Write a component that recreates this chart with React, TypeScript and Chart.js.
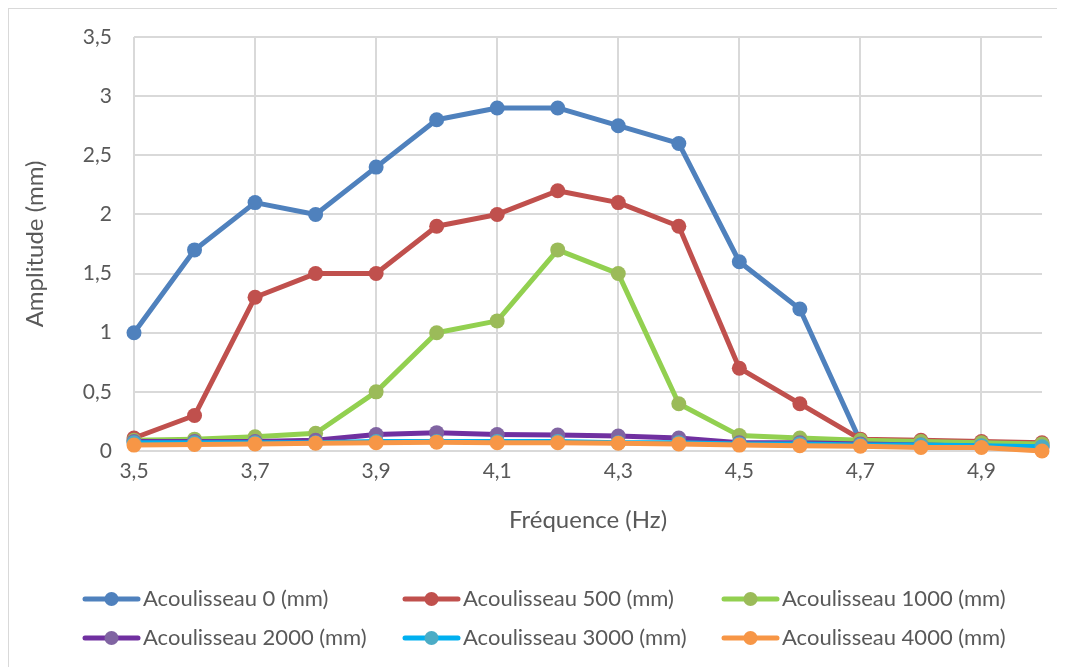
import React, { useEffect, useRef } from "react";
import { Chart, registerables } from "chart.js";

Chart.register(...registerables);

const frequencies = [3.5, 3.6, 3.7, 3.8, 3.9, 4.0, 4.1, 4.2, 4.3, 4.4, 4.5, 4.6, 4.7, 4.8, 4.9, 5.0];

const serie0 = [1.0, 1.7, 2.1, 2.0, 2.4, 2.8, 2.9, 2.9, 2.75, 2.6, 1.6, 1.2, 0.08, 0.07, 0.06, 0.05];
const serie500 = [0.11, 0.3, 1.3, 1.5, 1.5, 1.9, 2.0, 2.2, 2.1, 1.9, 0.7, 0.4, 0.1, 0.09, 0.08, 0.07];
const serie1000 = [0.09, 0.1, 0.12, 0.15, 0.5, 1.0, 1.1, 1.7, 1.5, 0.4, 0.13, 0.11, 0.09, 0.08, 0.07, 0.06];
const serie2000 = [0.08, 0.08, 0.08, 0.09, 0.14, 0.155, 0.14, 0.135, 0.127, 0.11, 0.07, 0.07, 0.06, 0.05, 0.04, 0.03];
const serie3000 = [0.07, 0.07, 0.07, 0.07, 0.08, 0.08, 0.08, 0.08, 0.07, 0.07, 0.06, 0.06, 0.05, 0.05, 0.045, 0.035];
const serie4000 = [0.05, 0.055, 0.06, 0.065, 0.07, 0.075, 0.07, 0.07, 0.065, 0.06, 0.05, 0.045, 0.04, 0.03, 0.03, 0.0];

const seriesLabels = [
  "Acoulisseau 0 (mm)",
  "Acoulisseau 500 (mm)",
  "Acoulisseau 1000 (mm)",
  "Acoulisseau 2000 (mm)",
  "Acoulisseau 3000 (mm)",
  "Acoulisseau 4000 (mm)",
];

const xTickValues = [3.5, 3.7, 3.9, 4.1, 4.3, 4.5, 4.7, 4.9];
const xTickLabels = ["3,5", "3,7", "3,9", "4,1", "4,3", "4,5", "4,7", "4,9"];
const yTickLabels = ["0", "0,5", "1", "1,5", "2", "2,5", "3", "3,5"];

const xTitle = "Fréquence (Hz)";
const yTitle = "Amplitude (mm)";

const lineColors = ["#4f81bd", "#c0504d", "#92d050", "#7030a0", "#00b0f0", "#f79646"];
const markerColors = ["#4f81bd", "#c0504d", "#9bbb59", "#8064a2", "#4bacc6", "#f79646"];

const FONT = "Lato, 'Open Sans', sans-serif";
const TEXT = "#595959";

const gridLegend = {
  id: "gridLegend",
  afterDraw(chart: any) {
    const ctx = chart.ctx;
    const colX = [74, 394, 713];
    const rowY = [590, 629];
    chart.data.datasets.forEach((ds: any, i: number) => {
      const x = colX[i % 3];
      const y = rowY[Math.floor(i / 3)];
      ctx.save();
      ctx.strokeStyle = ds.borderColor;
      ctx.lineWidth = 5;
      ctx.lineCap = "round";
      ctx.beginPath();
      ctx.moveTo(x + 2, y);
      ctx.lineTo(x + 55, y);
      ctx.stroke();
      ctx.fillStyle = ds.pointBackgroundColor;
      ctx.beginPath();
      ctx.arc(x + 28.5, y, 7, 0, Math.PI * 2);
      ctx.fill();
      ctx.fillStyle = TEXT;
      ctx.font = `22px ${FONT}`;
      ctx.textBaseline = "middle";
      ctx.textAlign = "left";
      ctx.fillText(ds.label, x + 60, y);
      ctx.restore();
    });
  },
};

export default function App() {
  const canvasRef = useRef<HTMLCanvasElement | null>(null);

  useEffect(() => {
    if (!canvasRef.current) return;
    const allSeries = [serie0, serie500, serie1000, serie2000, serie3000, serie4000];
    const datasets = allSeries.map((values, i) => ({
      label: seriesLabels[i],
      data: values.map((v, k) => ({ x: frequencies[k], y: v })),
      borderColor: lineColors[i],
      backgroundColor: lineColors[i],
      pointBackgroundColor: markerColors[i],
      pointBorderColor: markerColors[i],
      pointRadius: 7.5,
      pointBorderWidth: 0,
      borderWidth: 5,
      borderCapStyle: "round",
      borderJoinStyle: "round",
      tension: 0,
      clip: false,
      order: allSeries.length - i,
    }));

    const chart = new Chart(canvasRef.current, {
      type: "line",
      data: { datasets },
      plugins: [gridLegend],
      options: {
        animation: false,
        responsive: true,
        maintainAspectRatio: false,
        layout: { padding: { left: 0, top: 28, right: 23, bottom: 126 } },
        plugins: {
          legend: { display: false },
          tooltip: { enabled: false },
        },
        scales: {
          x: {
            type: "linear",
            min: 3.5,
            max: 5.0,
            afterBuildTicks: (axis: any) => {
              axis.ticks = xTickValues.map((v) => ({ value: v }));
            },
            afterFit: (axis: any) => {
              axis.height = 90;
            },
            ticks: {
              autoSkip: false,
              maxRotation: 0,
              padding: 8,
              color: TEXT,
              font: { family: FONT, size: 21 },
              callback: (value: any) => {
                const idx = xTickValues.findIndex((v) => Math.abs(v - Number(value)) < 1e-6);
                return idx >= 0 ? xTickLabels[idx] : "";
              },
            },
            grid: { color: "#d9d9d9", lineWidth: 2, drawTicks: false },
            border: { display: false },
            title: {
              display: true,
              text: xTitle,
              color: TEXT,
              font: { family: FONT, size: 24 },
              padding: { top: 0, bottom: 6 },
            },
          },
          y: {
            min: 0,
            max: 3.5,
            afterFit: (axis: any) => {
              axis.width = 125;
              axis.paddingTop = 0;
              axis.paddingBottom = 0;
            },
            ticks: {
              stepSize: 0.5,
              padding: 22,
              color: TEXT,
              font: { family: FONT, size: 21 },
              callback: (value: any) => yTickLabels[Math.round(Number(value) / 0.5)] ?? "",
            },
            grid: { color: "#d9d9d9", lineWidth: 2, drawTicks: false },
            border: { display: false },
            title: {
              display: true,
              text: yTitle,
              color: TEXT,
              font: { family: FONT, size: 24 },
              padding: { top: 12, bottom: 0 },
            },
          },
        },
      } as any,
    });
    return () => chart.destroy();
  }, []);

  return (
    <div
      style={{
        width: 1056,
        height: 658,
        borderLeft: "1px solid #d9d9d9",
        borderTop: "1px solid #d9d9d9",
        position: "relative",
      }}
    >
      <canvas ref={canvasRef} />
    </div>
  );
}
